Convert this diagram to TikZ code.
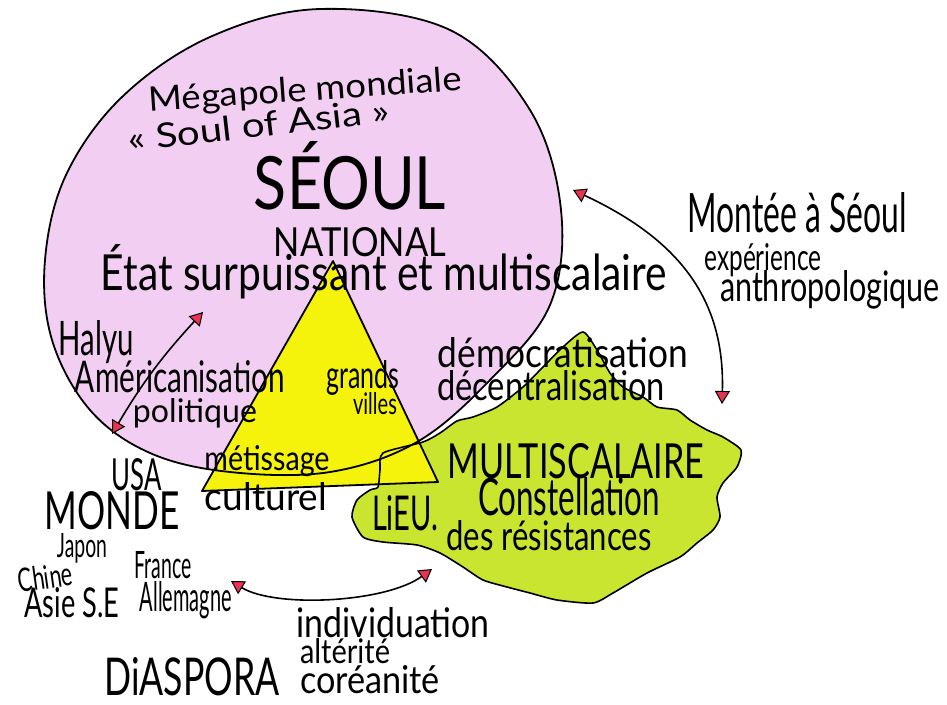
\documentclass[tikz,border=0pt]{standalone}
\usepackage{fontspec}
\setmainfont{Lato}
\usetikzlibrary{arrows.meta}
\definecolor{pinkfill}{RGB}{243,206,243}
\definecolor{yellowfill}{RGB}{245,243,12}
\definecolor{greenfill}{RGB}{202,229,48}
\definecolor{arrowred}{RGB}{232,52,84}
\newcommand{\hw}[3]{\resizebox{#1pt}{#2pt}{#3}}
\begin{document}
\begin{tikzpicture}[x=1pt,y=-1pt,
  hw/.style={inner sep=0pt, anchor=base},
  outline/.style={draw=black, line width=1.8pt, line join=round},
  conn/.style={draw=black, line width=1.6pt},
  redtip/.tip={Triangle[length=13pt,width=15pt,fill=arrowred,line width=1pt]}]
\useasboundingbox (0,0) rectangle (947,704);
\fill[white] (0,0) rectangle (947,704);

% Seoul circle
\def\seoulpts{(320,9) (450,30) (530,110) (561,210) (550,305) (490,380)
 (417,442) (330,472) (230,472) (150,453) (90,410) (52,340) (45,260)
 (66,175) (122,97) (210,37)}
\path[fill=pinkfill] plot[smooth cycle, tension=0.6] coordinates {\seoulpts};

% green blob
\def\blobpts{(383,453) (423,442) (440,433) (457,421) (473,417) (497,407) (523,387)
 (543,367) (563,347) (583,332) (597,350) (610,373) (623,387) (643,397)
 (657,407) (677,410) (690,420) (707,430) (723,437) (741,450) (737,467)
 (723,483) (717,497) (720,517) (713,530) (697,543) (680,557) (647,573)
 (613,593) (593,603) (557,600) (530,593) (507,587) (483,580) (463,567)
 (440,553) (417,545) (383,542) (363,537) (352,517) (357,500) (370,490)
 (378,487) (380,470)}
\path[fill=greenfill] plot[smooth cycle, tension=0.4] coordinates {\blobpts};

% triangle
\fill[yellowfill] (333,261) -- (202,491) -- (438,482) -- cycle;

% outlines
\draw[outline] plot[smooth cycle, tension=0.6] coordinates {\seoulpts};
\draw[outline, line width=1.6pt] plot[smooth cycle, tension=0.4] coordinates {\blobpts};
\draw[outline] (333,261) -- (202,491) -- (438,482) -- cycle;

% arrows
\coordinate (a1s) at (112,434);
\coordinate (a1e) at (203,312);
\draw[conn, redtip-redtip] (a1s) to[bend left=6] (a1e);
\coordinate (a2s) at (573,190);
\coordinate (a2e) at (722,404);
\draw[conn, redtip-redtip] (a2s) .. controls (680,240) and (725,300) .. (a2e);
\coordinate (a3s) at (231,581);
\coordinate (a3e) at (432,569);
\draw[conn, redtip-redtip] (a3s) .. controls (275,608) and (385,603) .. (a3e);

% texts
\node[hw, rotate=4] (t1) at (306,101) {\hw{313}{25}{Mégapole mondiale}};
\node[hw, rotate=6.5] (t2) at (260,137) {\hw{262}{25}{« Soul of Asia »}};
\node[hw] (t3) at (350,209) {\hw{192}{68}{SÉOUL}};
\node[hw] (t4) at (360,256) {\hw{172}{29}{NATIONAL}};
\node[hw] (t5) at (384,290) {\hw{566}{46}{État surpuissant et multiscalaire}};
\node[hw] (t6) at (96,355) {\hw{75}{35}{Halyu}};
\node[hw] (t7) at (180,392) {\hw{210}{32}{Américanisation}};
\node[hw] (t8) at (195,422) {\hw{124}{24}{politique}};
\node[hw] (t9) at (363,388) {\hw{73}{28}{grands}};
\node[hw] (t10) at (375,414) {\hw{44}{22}{villes}};
\node[hw] (t11) at (563,367) {\hw{250}{30}{démocratisation}};
\node[hw] (t12) at (551,400) {\hw{228}{30}{décentralisation}};
\node[hw] (t13) at (797,232) {\hw{219}{40}{Montée à Séoul}};
\node[hw] (t14) at (763,270) {\hw{117}{27}{expérience}};
\node[hw] (t15) at (830,301) {\hw{220}{31}{anthropologique}};
\node[hw] (t16) at (576,478) {\hw{257}{35}{MULTISCALAIRE}};
\node[hw] (t17) at (569,515) {\hw{182}{38}{Constellation}};
\node[hw] (t18) at (549,550) {\hw{205}{30}{des résistances}};
\node[hw] (t19) at (405,530) {\hw{66}{35}{LiEU.}};
\node[hw] (t20) at (137,490) {\hw{50}{32}{USA}};
\node[hw] (t21) at (267,470) {\hw{125}{25}{métissage}};
\node[hw] (t22) at (266,510) {\hw{122}{28}{culturel}};
\node[hw] (t23) at (112,529) {\hw{135}{38}{MONDE}};
\node[hw] (t24) at (82,557) {\hw{50}{24}{Japon}};
\node[hw, rotate=8] (t25) at (47,589) {\hw{55}{24}{Chine}};
\node[hw] (t26) at (163,578) {\hw{57}{27}{France}};
\node[hw] (t27) at (72,617) {\hw{95}{30}{Asie S.E}};
\node[hw] (t28) at (186,611) {\hw{92}{30}{Allemagne}};
\node[hw] (t29) at (393,637) {\hw{193}{30}{individuation}};
\node[hw] (t30) at (345,663) {\hw{90}{25}{altérité}};
\node[hw] (t31) at (370,693) {\hw{140}{28}{coréanité}};
\node[hw] (t32) at (192,695) {\hw{175}{38}{DiASPORA}};
\end{tikzpicture}
\end{document}
